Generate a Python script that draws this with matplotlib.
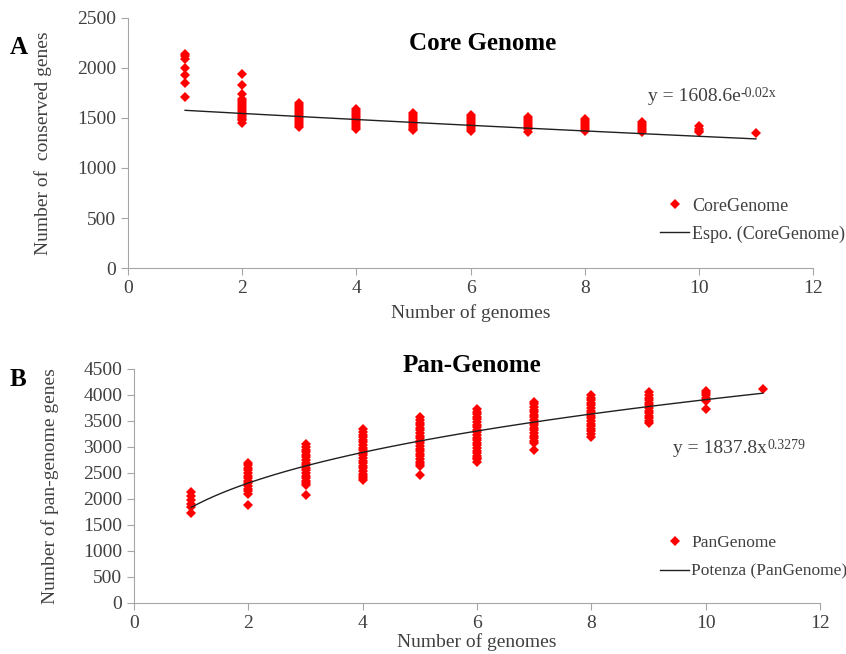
import matplotlib
matplotlib.use("Agg")
import numpy as np
import matplotlib.pyplot as plt

plt.rcParams['font.family'] = ['Liberation Serif', 'DejaVu Serif']

# core genome: conserved genes per number of genomes
core_1 = [2140, 2120, 2090, 2000, 1930, 1850, 1710]
core_2 = [1940, 1830, 1740, 1690, 1670, 1650, 1630, 1610, 1590, 1570, 1550, 1530, 1510, 1490, 1475, 1445]
core_3 = [1645, 1625, 1605, 1585, 1565, 1545, 1525, 1505, 1485, 1465, 1445, 1425, 1410]
core_4 = [1585, 1565, 1545, 1525, 1505, 1485, 1465, 1445, 1425, 1405, 1390]
core_5 = [1550, 1530, 1510, 1490, 1470, 1450, 1430, 1410, 1390, 1378]
core_6 = [1525, 1505, 1485, 1465, 1445, 1425, 1405, 1385, 1368]
core_7 = [1505, 1485, 1465, 1445, 1425, 1405, 1385, 1362]
core_8 = [1490, 1470, 1450, 1430, 1410, 1390, 1368]
core_9 = [1460, 1440, 1420, 1400, 1380, 1355]
core_10 = [1420, 1390, 1370, 1355]
core_11 = [1353]
core_cols = [core_1, core_2, core_3, core_4, core_5, core_6, core_7, core_8, core_9, core_10, core_11]

# pan genome: genes per number of genomes
pan_1 = [2130, 2060, 1990, 1910, 1840, 1730]
pan_2 = [2700, 2650, 2600, 2550, 2500, 2450, 2400, 2350, 2300, 2250, 2200, 2150, 2100, 1890]
pan_3 = [3050, 3000, 2950, 2900, 2850, 2800, 2750, 2700, 2650, 2600, 2550, 2500, 2450, 2400, 2350, 2300, 2270, 2080]
pan_4 = [3340, 3290, 3240, 3190, 3140, 3090, 3040, 2990, 2940, 2890, 2840, 2790, 2740, 2690, 2640, 2590, 2540, 2490, 2440, 2400, 2370]
pan_5 = [3570, 3520, 3470, 3420, 3370, 3320, 3270, 3220, 3170, 3120, 3070, 3020, 2970, 2920, 2870, 2820, 2770, 2720, 2670, 2630, 2470]
pan_6 = [3730, 3680, 3630, 3580, 3530, 3480, 3430, 3380, 3330, 3280, 3230, 3180, 3130, 3080, 3030, 2980, 2930, 2880, 2830, 2790, 2760, 2720]
pan_7 = [3870, 3820, 3770, 3720, 3670, 3620, 3570, 3520, 3470, 3420, 3370, 3320, 3270, 3220, 3170, 3120, 3070, 2950]
pan_8 = [4000, 3950, 3900, 3850, 3800, 3750, 3700, 3650, 3600, 3550, 3500, 3450, 3400, 3350, 3300, 3250, 3200]
pan_9 = [4050, 4000, 3950, 3900, 3850, 3800, 3750, 3700, 3650, 3600, 3550, 3500, 3470]
pan_10 = [4080, 4040, 4000, 3950, 3900, 3880, 3730]
pan_11 = [4110]
pan_cols = [pan_1, pan_2, pan_3, pan_4, pan_5, pan_6, pan_7, pan_8, pan_9, pan_10, pan_11]

# trend line coefficients as printed on the chart
core_a, core_b = 1608.6, -0.02
pan_a, pan_b = 1837.8, 0.3279

GRAY = "#a6a6a6"
TXT = "#404040"


def flatten(cols):
    xs, ys = [], []
    for i, col in enumerate(cols):
        xs += [i + 1] * len(col)
        ys += col
    return xs, ys


def style(ax, ymax, ystep):
    for s in ["top", "right"]:
        ax.spines[s].set_visible(False)
    for s in ["left", "bottom"]:
        ax.spines[s].set_color(GRAY)
    ax.set_xlim(0, 12)
    ax.set_ylim(0, ymax)
    ax.set_xticks(np.arange(0, 13, 2))
    ax.set_yticks(np.arange(0, ymax + 1, ystep))
    ax.tick_params(direction="out", length=5, color=GRAY, labelcolor=TXT, labelsize=14)


def equation(ax, x, y, main, sup):
    t = ax.text(x, y, main, transform=ax.transAxes, fontsize=14, color=TXT,
                ha="left", va="center")
    ax.annotate(sup, xy=(1.0, 1.08), xycoords=t, fontsize=10, color=TXT,
                ha="left", va="top")


fig = plt.figure(figsize=(8.46, 6.54), dpi=100)

# ---- A: core genome
ax1 = fig.add_axes([0.1513, 0.5902, 0.8097, 0.3823])
x, y = flatten(core_cols)
ax1.plot(x, y, "D", color="red", ms=4.6, mew=0, label="CoreGenome")
xt = np.linspace(1, 11, 100)
ax1.plot(xt, core_a * np.exp(core_b * xt), color="#202020", lw=1, label="Espo. (CoreGenome)")
style(ax1, 2500, 500)
ax1.set_xlabel("Number of genomes", fontsize=14, color=TXT, labelpad=5)
ax1.set_ylabel("Number of  conserved genes", fontsize=14, color=TXT, labelpad=18)
equation(ax1, 0.759, 0.684, "y = 1608.6e", "-0.02x")
ax1.legend(loc="upper left", bbox_to_anchor=(0.777, 0.282), frameon=False, fontsize=13,
           handlelength=1.6, handletextpad=0.15, labelspacing=0.6, borderpad=0,
           borderaxespad=0, labelcolor=TXT)

# ---- B: pan genome
ax2 = fig.add_axes([0.1584, 0.078, 0.8109, 0.3578])
x, y = flatten(pan_cols)
ax2.plot(x, y, "D", color="red", ms=4.6, mew=0, label="PanGenome")
ax2.plot(xt, pan_a * xt ** pan_b, color="#202020", lw=1, label="Potenza (PanGenome)")
style(ax2, 4500, 500)
ax2.set_xlabel("Number of genomes", fontsize=14, color=TXT, labelpad=1)
ax2.set_ylabel("Number of pan-genome genes", fontsize=14, color=TXT, labelpad=17)
equation(ax2, 0.786, 0.66, "y = 1837.8x", "0.3279")
ax2.legend(loc="upper left", bbox_to_anchor=(0.767, 0.29), frameon=False, fontsize=12.5,
           handlelength=1.65, handletextpad=0.15, labelspacing=0.7, borderpad=0,
           borderaxespad=0, labelcolor=TXT)

# titles and panel letters
fig.text(0.571, 0.924, "Core Genome", fontsize=18, fontweight="bold", ha="center")
fig.text(0.558, 0.431, "Pan-Genome", fontsize=18, fontweight="bold", ha="center")
fig.text(0.011, 0.917, "A", fontsize=18, fontweight="bold")
fig.text(0.011, 0.41, "B", fontsize=18, fontweight="bold")

fig.savefig("out.png", dpi=100)
